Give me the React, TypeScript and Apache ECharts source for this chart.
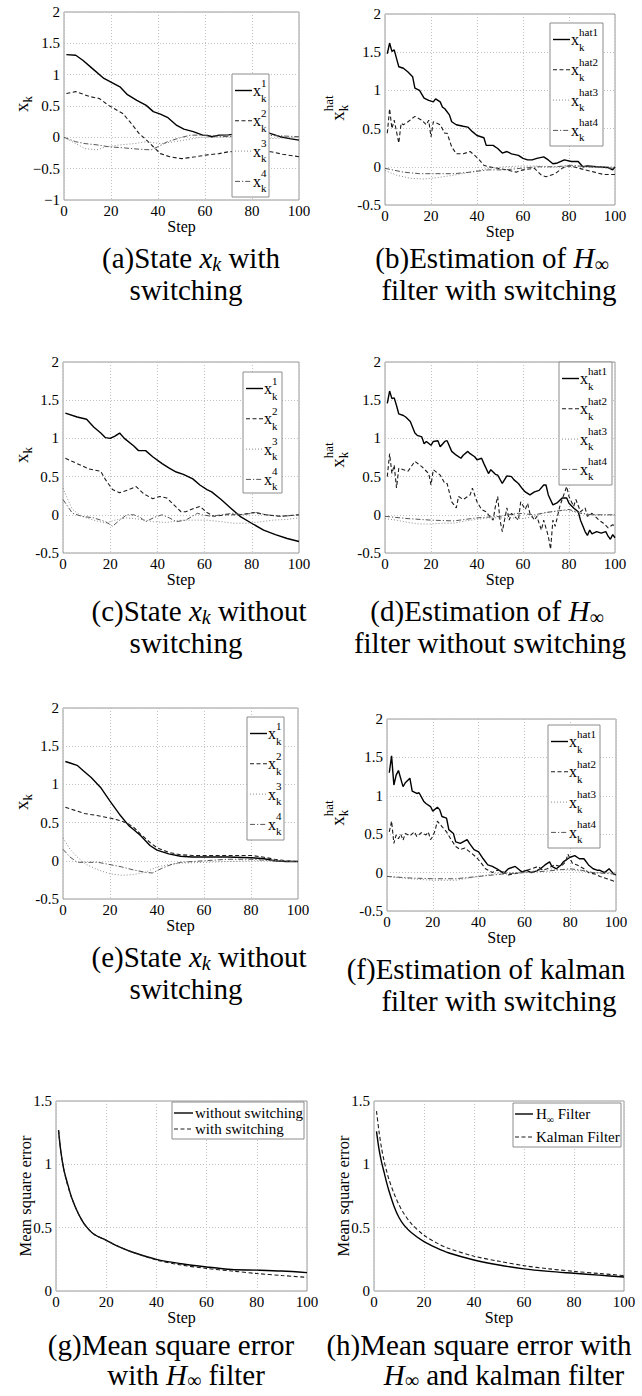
import React, { useEffect, useRef } from "react";
import * as echarts from "echarts";

const SERIF = "Liberation Serif, Times New Roman, Times, serif";
const PAGE_W = 642;
const PAGE_H = 1396;

// ---------------- data ----------------
const X_TICKS = { min: 0, max: 100, interval: 20 };

// (a) state with switching
const aX1Steps = [1, 5, 8, 12, 17, 21, 24, 27, 31, 35, 38, 41, 44, 48, 51, 55, 59, 61, 63, 66, 70, 75, 80, 87, 92, 96, 100];
const aX1 = [1.32, 1.31, 1.23, 1.1, 0.94, 0.86, 0.8, 0.68, 0.59, 0.51, 0.41, 0.37, 0.32, 0.19, 0.13, 0.09, 0.035, 0.03, 0.01, 0.035, 0.04, 0.06, 0.08, 0.07, 0.01, -0.02, -0.045];
const aX2Steps = [1, 5, 11, 15, 19, 25, 28, 32, 35, 38, 41, 45, 50, 56, 61, 66, 70, 75, 80, 88, 93, 100];
const aX2 = [0.7, 0.73, 0.65, 0.62, 0.51, 0.38, 0.25, 0.06, -0.04, -0.15, -0.26, -0.31, -0.34, -0.31, -0.28, -0.26, -0.23, -0.22, -0.22, -0.23, -0.27, -0.31];
const aX3Steps = [0, 5, 9, 14, 18, 24, 30, 35, 41, 47, 52, 58, 65, 70, 80, 88, 100];
const aX3 = [0.0, -0.1, -0.18, -0.2, -0.15, -0.12, -0.1, -0.07, -0.1, -0.07, -0.04, 0.0, 0.0, 0.01, 0.01, -0.02, 0.0];
const aX4Steps = [0, 5, 9, 14, 19, 26, 32, 37, 40, 44, 50, 54, 59, 65, 70, 80, 88, 100];
const aX4 = [0.0, -0.07, -0.1, -0.12, -0.15, -0.17, -0.19, -0.2, -0.15, -0.07, 0.0, 0.035, 0.035, 0.02, 0.01, 0.02, 0.03, 0.01];

// (b) H-infinity estimate with switching
const bH1Steps = [1, 2, 3, 4, 5, 6, 8, 10, 12, 13, 15, 17, 19, 21, 22, 24, 25, 26, 28, 29, 31, 34, 36, 38, 40, 42, 43, 44, 47, 49, 51, 53, 55, 58, 60, 62, 64, 66, 69, 71, 73, 75, 78, 81, 84, 86, 88, 92, 97, 99, 100];
const bH1 = [1.48, 1.62, 1.51, 1.53, 1.42, 1.31, 1.29, 1.24, 1.18, 1.03, 1.0, 0.9, 0.87, 0.85, 0.89, 0.85, 0.78, 0.76, 0.68, 0.59, 0.55, 0.53, 0.52, 0.46, 0.41, 0.39, 0.38, 0.28, 0.28, 0.24, 0.18, 0.2, 0.17, 0.15, 0.11, 0.09, 0.09, 0.11, 0.13, 0.09, 0.04, 0.05, 0.09, 0.07, 0.07, 0.0, 0.01, 0.0, -0.01, -0.04, 0.0];
const bH2Steps = [1, 2, 3, 4, 5, 6, 7, 8, 10, 13, 16, 18, 19, 20, 21, 24, 26, 27, 29, 31, 34, 37, 39, 41, 43, 45, 49, 53, 57, 60, 65, 68, 70, 74, 77, 79, 82, 87, 91, 95, 100];
const bH2 = [0.44, 0.76, 0.5, 0.61, 0.46, 0.31, 0.57, 0.55, 0.59, 0.66, 0.61, 0.55, 0.61, 0.39, 0.59, 0.55, 0.44, 0.44, 0.26, 0.17, 0.17, 0.2, 0.15, 0.09, 0.02, 0.0, -0.02, -0.04, -0.07, -0.04, -0.02, -0.11, -0.13, -0.09, -0.02, 0.01, 0.0, -0.04, -0.07, -0.1, -0.1];
const bH3Steps = [0, 5, 11, 17, 23, 30, 37, 45, 52, 59, 66, 74, 81, 88, 100];
const bH3 = [-0.05, -0.11, -0.15, -0.16, -0.14, -0.11, -0.07, -0.02, 0.0, 0.01, 0.01, 0.0, 0.01, 0.0, 0.0];
const bH4Steps = [0, 8, 15, 23, 30, 37, 45, 52, 59, 66, 74, 81, 88, 100];
const bH4 = [-0.02, -0.07, -0.09, -0.09, -0.09, -0.07, -0.04, -0.04, -0.02, 0.0, 0.0, 0.02, 0.0, -0.02];

// (c) state without switching
const cX1Steps = [1, 6, 10, 13, 16, 18, 20, 22, 24, 26, 30, 32, 35, 38, 42, 45, 48, 51, 55, 58, 61, 63, 67, 71, 75, 81, 85, 90, 95, 100];
const cX1 = [1.33, 1.28, 1.25, 1.15, 1.07, 1.01, 1.0, 1.03, 1.07, 1.0, 0.9, 0.84, 0.84, 0.76, 0.67, 0.61, 0.56, 0.53, 0.47, 0.39, 0.33, 0.3, 0.2, 0.09, -0.02, -0.13, -0.2, -0.26, -0.31, -0.35];
const cX2Steps = [1, 6, 11, 16, 18, 21, 24, 28, 31, 34, 38, 41, 44, 47, 50, 52, 56, 58, 61, 64, 69, 75, 81, 86, 92, 100];
const cX2 = [0.74, 0.67, 0.6, 0.57, 0.46, 0.33, 0.29, 0.33, 0.37, 0.28, 0.21, 0.24, 0.22, 0.13, 0.04, 0.04, 0.09, 0.11, 0.03, -0.02, 0.0, 0.0, 0.03, 0.0, -0.02, 0.0];
const cX3Steps = [0, 2, 4, 8, 13, 18, 22, 27, 33, 38, 44, 50, 55, 61, 67, 72, 78, 84, 89, 95, 100];
const cX3 = [0.35, 0.2, 0.07, -0.02, -0.07, -0.11, -0.07, -0.04, -0.06, -0.09, -0.1, -0.07, -0.07, -0.07, -0.09, -0.11, -0.11, -0.09, -0.07, -0.06, -0.04];
const cX4Steps = [0, 2, 4, 8, 13, 18, 21, 24, 27, 30, 33, 35, 39, 42, 45, 48, 52, 57, 59, 63, 67, 72, 76, 82, 86, 93, 100];
const cX4 = [0.2, 0.11, 0.02, -0.02, -0.04, -0.09, -0.15, -0.07, 0.0, 0.0, -0.04, -0.09, -0.03, 0.0, -0.04, -0.09, -0.07, 0.02, 0.0, -0.02, 0.0, 0.02, 0.0, 0.03, 0.0, -0.02, 0.0];

// (d) H-infinity estimate without switching
const dH1Steps = [1, 2, 3, 4, 5, 6, 8, 9, 11, 13, 14, 16, 17, 18, 20, 21, 23, 24, 26, 27, 29, 31, 33, 34, 36, 37, 39, 40, 42, 43, 45, 46, 48, 49, 51, 53, 55, 56, 58, 60, 61, 63, 65, 67, 69, 70, 71, 73, 75, 77, 79, 80, 82, 84, 85, 87, 88, 89, 90, 92, 94, 96, 97, 98, 99, 100];
const dH1 = [1.46, 1.62, 1.52, 1.53, 1.43, 1.32, 1.3, 1.28, 1.22, 1.07, 1.04, 1.02, 0.93, 0.96, 0.91, 0.96, 0.97, 0.89, 0.96, 0.97, 0.83, 0.78, 0.74, 0.78, 0.83, 0.8, 0.76, 0.72, 0.74, 0.67, 0.54, 0.59, 0.53, 0.52, 0.41, 0.51, 0.5, 0.46, 0.41, 0.33, 0.3, 0.26, 0.3, 0.32, 0.39, 0.39, 0.26, 0.13, 0.16, 0.22, 0.22, 0.15, 0.09, 0.04, -0.07, -0.22, -0.27, -0.2, -0.25, -0.22, -0.24, -0.22, -0.28, -0.32, -0.26, -0.3];
const dH2Steps = [1, 2, 3, 4, 5, 6, 8, 10, 13, 16, 18, 19, 20, 21, 24, 26, 27, 29, 31, 32, 34, 37, 38, 40, 42, 44, 45, 47, 48, 49, 50, 51, 53, 54, 55, 58, 59, 61, 62, 63, 65, 66, 68, 69, 71, 72, 73, 74, 76, 77, 79, 80, 82, 83, 85, 87, 88, 90, 93, 95, 97, 99, 100];
const dH2 = [0.5, 0.8, 0.54, 0.65, 0.35, 0.61, 0.59, 0.57, 0.7, 0.63, 0.57, 0.54, 0.39, 0.59, 0.52, 0.41, 0.41, 0.17, 0.09, 0.24, 0.2, 0.26, 0.35, 0.17, 0.07, 0.04, 0.0, -0.07, 0.11, 0.24, -0.07, -0.22, 0.09, -0.07, 0.02, -0.07, 0.17, 0.07, 0.15, 0.02, -0.07, -0.02, -0.2, -0.07, -0.28, -0.45, -0.07, -0.15, 0.11, 0.2, 0.37, 0.24, 0.11, 0.2, 0.04, 0.09, -0.02, 0.02, -0.07, -0.11, -0.17, -0.13, -0.15];
const dH3Steps = [0, 5, 10, 15, 20, 25, 30, 35, 40, 45, 50, 55, 60, 65, 70, 75, 78, 82, 86, 90, 95, 100];
const dH3 = [-0.05, -0.07, -0.1, -0.12, -0.12, -0.11, -0.11, -0.08, -0.06, -0.04, -0.04, -0.04, -0.05, -0.02, 0.03, 0.05, 0.06, 0.04, 0.02, 0.0, 0.0, 0.0];
const dH4Steps = [0, 10, 20, 30, 40, 50, 58, 65, 70, 75, 80, 85, 90, 100];
const dH4 = [-0.02, -0.05, -0.07, -0.08, -0.04, -0.02, 0.02, 0.0, 0.03, 0.05, 0.07, 0.02, 0.0, 0.0];

// (e) state without switching
const eX1Steps = [1, 3, 6, 9, 12, 16, 20, 24, 28, 30, 33, 37, 40, 45, 50, 55, 60, 70, 80, 85, 90, 95, 100];
const eX1 = [1.3, 1.28, 1.25, 1.17, 1.09, 0.96, 0.78, 0.61, 0.46, 0.41, 0.33, 0.2, 0.14, 0.09, 0.06, 0.05, 0.05, 0.05, 0.04, 0.03, 0.0, -0.01, -0.01];
const eX2Steps = [1, 5, 9, 15, 20, 25, 28, 30, 33, 37, 40, 45, 50, 55, 60, 70, 80, 85, 90, 95, 100];
const eX2 = [0.7, 0.66, 0.62, 0.59, 0.56, 0.52, 0.48, 0.44, 0.35, 0.24, 0.17, 0.11, 0.08, 0.07, 0.07, 0.07, 0.07, 0.05, 0.02, 0.0, -0.01];
const eX3Steps = [0, 3, 6, 10, 15, 20, 25, 30, 35, 40, 45, 50, 60, 70, 80, 90, 100];
const eX3 = [0.3, 0.15, 0.05, -0.05, -0.12, -0.17, -0.19, -0.18, -0.15, -0.08, -0.05, -0.03, -0.02, -0.01, 0.0, 0.0, 0.0];
const eX4Steps = [0, 3, 6, 10, 15, 20, 25, 30, 35, 38, 42, 46, 50, 60, 70, 80, 90, 100];
const eX4 = [0.15, 0.05, -0.02, -0.02, -0.02, -0.05, -0.08, -0.12, -0.15, -0.16, -0.1, -0.05, -0.02, 0.0, 0.02, 0.02, 0.0, -0.01];

// (f) Kalman estimate with switching
const fH1Steps = [1, 2, 3, 4, 5, 7, 8, 10, 11, 13, 14, 16, 17, 19, 20, 22, 23, 24, 26, 27, 29, 30, 32, 35, 36, 38, 40, 42, 44, 46, 48, 51, 53, 56, 58, 59, 61, 63, 65, 67, 69, 71, 72, 74, 76, 77, 79, 80, 82, 84, 86, 88, 90, 92, 93, 95, 97, 99, 100];
const fH1 = [1.3, 1.52, 1.14, 1.27, 1.33, 1.12, 1.17, 1.23, 1.06, 1.03, 1.04, 0.93, 0.9, 0.86, 0.8, 0.85, 0.82, 0.73, 0.71, 0.56, 0.51, 0.4, 0.38, 0.43, 0.38, 0.3, 0.27, 0.18, 0.1, 0.08, 0.05, -0.01, 0.05, 0.08, 0.03, 0.01, 0.03, 0.0, 0.02, 0.05, 0.1, 0.14, 0.08, 0.05, 0.1, 0.14, 0.18, 0.2, 0.22, 0.18, 0.18, 0.1, 0.05, 0.03, 0.03, 0.0, 0.05, -0.02, -0.03];
const fH2Steps = [1, 2, 3, 4, 5, 6, 7, 8, 10, 12, 13, 15, 17, 18, 19, 20, 21, 22, 24, 26, 28, 30, 32, 34, 37, 39, 41, 43, 46, 48, 50, 53, 55, 58, 60, 63, 66, 68, 70, 73, 76, 78, 79, 81, 83, 86, 88, 91, 93, 96, 98, 100];
const fH2 = [0.53, 0.67, 0.38, 0.49, 0.44, 0.5, 0.42, 0.51, 0.48, 0.53, 0.47, 0.52, 0.49, 0.53, 0.43, 0.47, 0.55, 0.67, 0.6, 0.53, 0.43, 0.34, 0.3, 0.32, 0.25, 0.2, 0.13, 0.05, 0.0, 0.03, 0.02, -0.03, -0.02, 0.0, 0.02, 0.05, 0.08, 0.03, 0.05, 0.1, 0.08, 0.14, 0.24, 0.12, 0.1, 0.05, 0.0, -0.02, -0.05, -0.08, -0.1, -0.12];
const fH3Steps = [0, 10, 20, 30, 40, 50, 60, 70, 75, 80, 85, 90, 100];
const fH3 = [-0.05, -0.08, -0.1, -0.1, -0.05, 0.0, 0.0, 0.05, 0.04, 0.03, 0.02, 0.0, 0.0];
const fH4Steps = [0, 10, 20, 30, 40, 50, 60, 70, 80, 85, 90, 100];
const fH4 = [-0.05, -0.07, -0.08, -0.08, -0.05, -0.02, 0.0, 0.02, 0.05, 0.03, 0.0, -0.02];

// (g), (h) mean square error
const mseSteps = [1, 2, 3, 4, 5, 6, 8, 10, 12, 15, 20, 25, 30, 40, 50, 60, 70, 80, 90, 100];
const gWithout = [1.27, 1.09, 0.97, 0.89, 0.82, 0.75, 0.65, 0.57, 0.51, 0.45, 0.4, 0.35, 0.31, 0.25, 0.215, 0.19, 0.17, 0.165, 0.158, 0.145];
const gWith = [1.27, 1.09, 0.97, 0.88, 0.81, 0.75, 0.65, 0.57, 0.51, 0.45, 0.4, 0.35, 0.31, 0.245, 0.205, 0.178, 0.158, 0.138, 0.122, 0.108];
const hHinf = [1.26, 1.12, 1.02, 0.94, 0.86, 0.79, 0.67, 0.58, 0.52, 0.46, 0.39, 0.34, 0.3, 0.245, 0.205, 0.175, 0.155, 0.14, 0.125, 0.11];
const hKalman = [1.42, 1.26, 1.13, 1.03, 0.95, 0.88, 0.77, 0.68, 0.61, 0.53, 0.44, 0.38, 0.335, 0.275, 0.235, 0.2, 0.175, 0.155, 0.138, 0.122];

// y ranges per panel
const Y_RANGES: [number, number][] = [[-1, 2], [-0.5, 2], [-0.5, 2], [-0.5, 2], [-0.5, 2], [-0.5, 2], [0, 1.5], [0, 1.5]];

// ---------------- layout ----------------
const GRID_POS = [
  [64, 12, 235, 188],
  [385, 14, 230, 191],
  [63, 362, 236, 191],
  [385, 362, 230, 191],
  [63, 708, 235, 191],
  [387, 719, 229, 192],
  [56, 1101, 251, 190],
  [374, 1101, 250, 190],
];

type Kind = "solid" | "dashed" | "dotted" | "dashdot";
const LINE_STYLE: Record<Kind, any> = {
  solid: { color: "#000", width: 1.4, type: "solid" },
  dashed: { color: "#1c1c1c", width: 1.1, type: [4, 2.5] },
  dotted: { color: "#8c8c8c", width: 1, type: [1, 2] },
  dashdot: { color: "#555", width: 1, type: [5, 2, 1.2, 2] },
};
const KINDS: Kind[] = ["solid", "dashed", "dotted", "dashdot"];

const SERIES_DEF: [number, number[], number[], Kind, boolean?][] = [
  [0, aX1Steps, aX1, "solid"], [0, aX2Steps, aX2, "dashed"], [0, aX3Steps, aX3, "dotted"], [0, aX4Steps, aX4, "dashdot"],
  [1, bH1Steps, bH1, "solid"], [1, bH2Steps, bH2, "dashed"], [1, bH3Steps, bH3, "dotted"], [1, bH4Steps, bH4, "dashdot"],
  [2, cX1Steps, cX1, "solid"], [2, cX2Steps, cX2, "dashed"], [2, cX3Steps, cX3, "dotted"], [2, cX4Steps, cX4, "dashdot"],
  [3, dH1Steps, dH1, "solid"], [3, dH2Steps, dH2, "dashed"], [3, dH3Steps, dH3, "dotted"], [3, dH4Steps, dH4, "dashdot"],
  [4, eX1Steps, eX1, "solid"], [4, eX2Steps, eX2, "dashed"], [4, eX3Steps, eX3, "dotted"], [4, eX4Steps, eX4, "dashdot"],
  [5, fH1Steps, fH1, "solid"], [5, fH2Steps, fH2, "dashed"], [5, fH3Steps, fH3, "dotted"], [5, fH4Steps, fH4, "dashdot"],
  [6, mseSteps, gWithout, "solid", true], [6, mseSteps, gWith, "dashed", true],
  [7, mseSteps, hHinf, "solid", true], [7, mseSteps, hKalman, "dashed", true],
];

// legend boxes: [x, y, w, h, supLabels]
const STATE_LEGENDS: [number, number, number, number, string[]][] = [
  [232, 74, 37, 123, ["1", "2", "3", "4"]],
  [550, 23, 53, 123, ["hat1", "hat2", "hat3", "hat4"]],
  [243, 372, 39, 121, ["1", "2", "3", "4"]],
  [559, 362, 53, 123, ["hat1", "hat2", "hat3", "hat4"]],
  [247, 717, 37, 123, ["1", "2", "3", "4"]],
  [548, 725, 52, 123, ["hat1", "hat2", "hat3", "hat4"]],
];

type Part = { t: string; s: number; i?: boolean; dy?: number; stack?: boolean };
const CAP = 29;
const CAP_SUB = 20;
const CAPTIONS: [number, number, Part[]][] = [
  [191, 258, [{ t: "(a)State ", s: CAP }, { t: "x", s: CAP, i: true }, { t: "k", s: CAP_SUB, i: true, dy: 6 }, { t: " with", s: CAP }]],
  [186, 290, [{ t: "switching", s: CAP }]],
  [492, 258, [{ t: "(b)Estimation of ", s: CAP }, { t: "H", s: CAP, i: true }, { t: "∞", s: CAP_SUB, dy: 6 }]],
  [499, 290, [{ t: "filter with switching", s: CAP }]],
  [199, 611, [{ t: "(c)State ", s: CAP }, { t: "x", s: CAP, i: true }, { t: "k", s: CAP_SUB, i: true, dy: 6 }, { t: " without", s: CAP }]],
  [186, 643, [{ t: "switching", s: CAP }]],
  [487, 611, [{ t: "(d)Estimation of ", s: CAP }, { t: "H", s: CAP, i: true }, { t: "∞", s: CAP_SUB, dy: 6 }]],
  [490, 643, [{ t: "filter without switching", s: CAP }]],
  [199, 957, [{ t: "(e)State ", s: CAP }, { t: "x", s: CAP, i: true }, { t: "k", s: CAP_SUB, i: true, dy: 6 }, { t: " without", s: CAP }]],
  [186, 989, [{ t: "switching", s: CAP }]],
  [486, 969, [{ t: "(f)Estimation of kalman", s: CAP }]],
  [499, 1001, [{ t: "filter with switching", s: CAP }]],
  [171, 1345, [{ t: "(g)Mean square error", s: CAP }]],
  [186, 1375, [{ t: "with ", s: CAP }, { t: "H", s: CAP, i: true }, { t: "∞", s: CAP_SUB, dy: 5 }, { t: " filter", s: CAP }]],
  [479, 1345, [{ t: "(h)Mean square error with", s: CAP }]],
  [504, 1375, [{ t: "H", s: CAP, i: true }, { t: "∞", s: CAP_SUB, dy: 5 }, { t: " and kalman filter", s: CAP }]],
];

const XK: Part[] = [{ t: "x", s: 19 }, { t: "k", s: 13, dy: 6 }];
const XHAT: Part[] = [{ t: "x", s: 19 }, { t: "k", s: 13, dy: 6 }, { t: "hat", s: 13, dy: -9, stack: true }];
const Y_TITLES: [number, number, Part[]][] = [
  [21, 104, XK], [337, 108, XHAT], [21, 455, XK], [337, 455, XHAT], [21, 802, XK], [337, 813, XHAT],
  [25, 1196, [{ t: "Mean square error", s: 16.5 }]], [343, 1196, [{ t: "Mean square error", s: 16.5 }]],
];

// ---------------- helpers ----------------
let measureCtx: CanvasRenderingContext2D | null = null;
function measure(t: string, size: number, italic?: boolean): number {
  if (!measureCtx) measureCtx = document.createElement("canvas").getContext("2d");
  if (!measureCtx) return t.length * size * 0.5;
  measureCtx.font = `${italic ? "italic " : ""}${size}px ${SERIF}`;
  return measureCtx.measureText(t).width;
}

function runs(parts: Part[], x: number, y: number, align: "left" | "center", rotation = 0, z = 100) {
  let cursor = 0;
  let lastStart = 0;
  let lastW = 0;
  const placed: { p: Part; x: number }[] = [];
  for (const p of parts) {
    const w = measure(p.t, p.s, p.i);
    if (p.stack) {
      placed.push({ p, x: lastStart });
      lastW = Math.max(lastW, w);
      cursor = lastStart + lastW;
    } else {
      placed.push({ p, x: cursor });
      lastStart = cursor;
      lastW = w;
      cursor += w;
    }
  }
  const off = align === "center" ? -cursor / 2 : 0;
  return {
    type: "group",
    x,
    y,
    rotation,
    silent: true,
    children: placed.map(({ p, x: px }) => ({
      type: "text",
      x: px + off,
      y: p.dy || 0,
      z,
      style: {
        text: p.t,
        fontSize: p.s,
        fontFamily: SERIF,
        fontStyle: p.i ? "italic" : "normal",
        fill: "#000",
        align: "left",
        verticalAlign: "middle",
      },
    })),
  };
}

function legendLine(x1: number, x2: number, y: number, kind: Kind) {
  const st = LINE_STYLE[kind];
  return {
    type: "line",
    z: 101,
    silent: true,
    shape: { x1, y1: y, x2, y2: y },
    style: { stroke: st.color, lineWidth: st.width, lineDash: Array.isArray(st.type) ? st.type : null },
  };
}

function legendBox(x: number, y: number, w: number, h: number) {
  return {
    type: "rect",
    z: 100,
    silent: true,
    shape: { x, y, width: w, height: h },
    style: { fill: "#fff", stroke: "#8c8c8c", lineWidth: 1 },
  };
}

function buildOption() {
  const grid = GRID_POS.map(([l, t, w, h]) => ({
    left: l, top: t, width: w, height: h, show: true, borderColor: "#999", borderWidth: 1,
  }));
  const splitLine = { show: true, lineStyle: { color: "#c2c2c2", type: [1, 2], width: 1 } };
  const xAxis = GRID_POS.map((_, i) => ({
    gridIndex: i, type: "value", ...X_TICKS,
    axisLine: { show: false }, axisTick: { show: false },
    axisLabel: { fontFamily: SERIF, fontSize: 15, color: "#000", margin: 3 },
    splitLine,
    name: "Step", nameLocation: "middle", nameGap: 17,
    nameTextStyle: { fontFamily: SERIF, fontSize: 16, color: "#000" },
  }));
  const yAxis = Y_RANGES.map(([mn, mx], i) => ({
    gridIndex: i, type: "value", min: mn, max: mx, interval: 0.5,
    axisLine: { show: false }, axisTick: { show: false },
    axisLabel: {
      fontFamily: SERIF, fontSize: 15, color: "#000", margin: 4,
      ...(i === 0 ? { formatter: (v: number) => String(v).replace("-", "−") } : {}),
    },
    splitLine,
  }));
  const series = SERIES_DEF.map(([gi, steps, vals, kind, smooth], k) => ({
    type: "line",
    name: `s${k}`,
    xAxisIndex: gi,
    yAxisIndex: gi,
    data: steps.map((s, j) => [s, vals[j]]),
    symbol: "none",
    showSymbol: false,
    smooth: smooth ? 0.3 : false,
    silent: true,
    z: 2,
    lineStyle: LINE_STYLE[kind],
  }));

  const elements: any[] = [];
  STATE_LEGENDS.forEach(([x, y, w, h, sups]) => {
    elements.push(legendBox(x, y, w, h));
    sups.forEach((sup, i) => {
      const yi = y + 16.5 + i * 30.3;
      elements.push(legendLine(x + 3, x + 20, yi, KINDS[i]));
      elements.push(
        runs([{ t: "x", s: 16 }, { t: sup, s: 11, dy: -8 }, { t: "k", s: 11, dy: 7, stack: true }], x + 21, yi, "left", 0, 101)
      );
    });
  });
  // (g) legend
  elements.push(legendBox(172, 1102, 132, 37));
  elements.push(legendLine(174, 193, 1113, "solid"));
  elements.push(runs([{ t: "without switching", s: 15 }], 195, 1113, "left", 0, 101));
  elements.push(legendLine(174, 193, 1129, "dashed"));
  elements.push(runs([{ t: "with switching", s: 15 }], 195, 1129, "left", 0, 101));
  // (h) legend
  elements.push(legendBox(513, 1103, 108, 44));
  elements.push(legendLine(515, 533, 1114, "solid"));
  elements.push(runs([{ t: "H", s: 15 }, { t: "∞", s: 10, dy: 5 }, { t: " Filter", s: 15 }], 536, 1114, "left", 0, 101));
  elements.push(legendLine(515, 533, 1137, "dashed"));
  elements.push(runs([{ t: "Kalman Filter", s: 15 }], 536, 1137, "left", 0, 101));

  Y_TITLES.forEach(([x, y, parts]) => elements.push(runs(parts, x, y, "center", Math.PI / 2, 50)));
  CAPTIONS.forEach(([x, y, parts]) => elements.push(runs(parts, x, y, "center", 0, 50)));

  return {
    animation: false,
    backgroundColor: "#fff",
    grid,
    xAxis,
    yAxis,
    series,
    graphic: { elements },
  };
}

export default function App() {
  const ref = useRef<HTMLDivElement>(null);
  useEffect(() => {
    if (!ref.current) return;
    const chart = echarts.init(ref.current, null, { renderer: "svg" });
    chart.setOption(buildOption() as any);
    return () => chart.dispose();
  }, []);
  return (
    <div
      ref={ref}
      style={{ position: "absolute", left: 0, top: 0, width: PAGE_W, height: PAGE_H, background: "#fff" }}
    />
  );
}
